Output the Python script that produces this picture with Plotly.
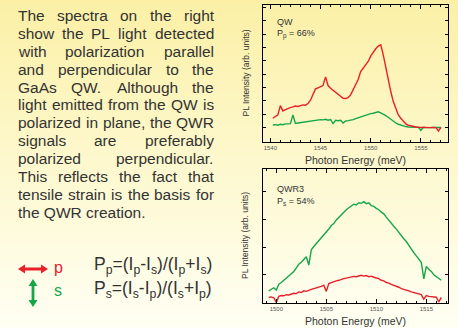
import plotly.graph_objects as go

# ---------------- data ----------------
qw_energy = [1540.25, 1540.5, 1540.75, 1541.0, 1541.25, 1541.5, 1541.75, 1542.0, 1542.25, 1542.5,
             1542.75, 1543.0, 1543.25, 1543.5, 1543.75, 1544.0, 1544.25, 1544.5, 1544.75, 1545.0,
             1545.25, 1545.5, 1545.75, 1546.0, 1546.25, 1546.5, 1546.75, 1547.0, 1547.25, 1547.5,
             1547.75, 1548.0, 1548.25, 1548.5, 1548.75, 1549.0, 1549.25, 1549.5, 1549.75, 1550.0,
             1550.25, 1550.5, 1550.75, 1551.0, 1551.25, 1551.5, 1551.75, 1552.0, 1552.25, 1552.5,
             1552.75, 1553.0, 1553.25, 1553.5, 1553.75, 1554.0, 1554.25, 1554.5, 1554.75, 1555.0,
             1555.25, 1555.5, 1555.75, 1556.0, 1556.25, 1556.5, 1556.75, 1557.0]
qw_p = [0.70, 0.85, 0.95, 1.65, 1.25, 1.35, 1.45, 1.50, 1.55, 1.62,
        1.58, 1.66, 1.70, 1.68, 1.80, 2.05, 2.55, 2.90, 2.98, 3.05,
        3.15, 3.80, 3.15, 2.95, 2.80, 2.60, 2.45, 2.32, 2.20, 2.18,
        2.25, 2.45, 2.80, 3.20, 3.60, 4.20, 4.45, 4.65, 4.95, 5.35,
        5.65, 5.90, 6.10, 6.20, 5.45, 4.50, 3.50, 2.70, 1.95, 1.40,
        0.95, 0.70, 0.45, 0.28, 0.18, 0.12, 0.08, 0.05, 0.03, 0.02,
        0.00, 0.02, -0.02, 0.00, 0.02, 0.00, -0.25, 0.02]
qw_s = [0.20, 0.22, 0.18, 0.25, 0.22, 0.28, 0.28, 0.30, 0.95, 0.32,
        0.35, 0.38, 0.36, 0.42, 0.45, 0.48, 0.52, 0.55, 0.58, 0.60,
        0.58, 0.62, 0.55, 0.60, 0.30, 0.55, 0.52, 0.55, 0.35, 0.50,
        0.52, 0.55, 0.60, 0.68, 0.75, 0.80, 0.85, 0.92, 0.98, 1.05,
        1.08, 1.15, 1.18, 1.10, 1.02, 0.90, 0.78, 0.62, 0.48, 0.35,
        0.25, 0.18, 0.12, 0.08, 0.05, 0.04, 0.03, 0.02, 0.03, -0.20,
        0.02, 0.00, 0.03, 0.01, 0.02, 0.00, 0.02, 0.01]

qwr_energy = [1499.25, 1499.5, 1499.75, 1500.0, 1500.25, 1500.5, 1500.75, 1501.0, 1501.25, 1501.5,
              1501.75, 1502.0, 1502.25, 1502.5, 1502.75, 1503.0, 1503.25, 1503.5, 1503.75, 1504.0,
              1504.25, 1504.5, 1504.75, 1505.0, 1505.25, 1505.5, 1505.75, 1506.0, 1506.25, 1506.5,
              1506.75, 1507.0, 1507.25, 1507.5, 1507.75, 1508.0, 1508.25, 1508.5, 1508.75, 1509.0,
              1509.25, 1509.5, 1509.75, 1510.0, 1510.25, 1510.5, 1510.75, 1511.0, 1511.25, 1511.5,
              1511.75, 1512.0, 1512.25, 1512.5, 1512.75, 1513.0, 1513.25, 1513.5, 1513.75, 1514.0,
              1514.25, 1514.5, 1514.75, 1515.0, 1515.25, 1515.5, 1515.75, 1516.0, 1516.25, 1516.5]
qwr_s = [0.42, 0.48, 0.53, 0.45, 0.66, 0.72, 0.80, 0.86, 0.95, 1.05,
         1.12, 1.25, 1.38, 1.45, 1.55, 1.65, 1.35, 1.90, 2.02, 2.12,
         2.25, 2.35, 2.45, 2.55, 2.65, 2.78, 2.85, 2.98, 3.08, 3.15,
         3.25, 3.35, 3.42, 3.48, 3.55, 3.52, 3.60, 3.58, 3.64, 3.57,
         3.60, 3.50, 3.47, 3.40, 3.35, 3.26, 3.20, 3.08, 2.96, 2.88,
         2.75, 2.65, 2.52, 2.42, 2.30, 2.20, 2.05, 1.95, 1.80, 1.68,
         1.55, 1.45, 0.85, 1.30, 1.20, 1.12, 1.00, 0.94, 0.86, 0.80]
qwr_p = [0.18, 0.20, 0.17, 0.00, 0.22, 0.25, 0.24, 0.28, 0.27, 0.30,
         0.33, 0.32, 0.38, 0.36, 0.42, 0.40, 0.45, 0.47, 0.50, 0.52,
         0.56, 0.58, 0.62, 0.40, 0.68, 0.72, 0.74, 0.78, 0.80, 0.84,
         0.86, 0.88, 0.90, 0.92, 0.94, 0.93, 0.96, 0.98, 0.95, 0.97,
         0.93, 0.95, 0.91, 0.88, 0.86, 0.80, 0.78, 0.72, 0.70, 0.65,
         0.62, 0.58, 0.55, 0.50, 0.48, 0.44, 0.42, 0.38, 0.35, 0.33,
         0.30, 0.28, 0.12, 0.25, 0.22, 0.21, 0.20, 0.19, 0.02, 0.18]

qw_ticks = [1540, 1545, 1550, 1555]
qwr_ticks = [1500, 1505, 1510, 1515]

paragraph_lines = [
    "The spectra on the right",
    "show the PL light detected",
    "with polarization parallel",
    "and perpendicular to the",
    "GaAs QW. Although the",
    "light emitted from the QW is",
    "polarized in plane, the QWR",
    "signals are preferably",
    "polarized perpendicular.",
    "This reflects the fact that",
    "tensile strain is the basis for",
    "the QWR creation.",
]

# ---------------- styling ----------------
W, H = 458, 328
RED = "#e8202a"
GREEN = "#15a64a"
TXT = "#333333"
FONT = "Liberation Sans, Arial, sans-serif"

# Arial / Liberation Sans advance widths (per 1000 em) for text layout
AW = {' ': 278, 'a': 556, 'b': 556, 'c': 500, 'd': 556, 'e': 556, 'f': 278, 'g': 556, 'h': 556,
      'i': 222, 'j': 222, 'k': 500, 'l': 222, 'm': 833, 'n': 556, 'o': 556, 'p': 556, 'q': 556,
      'r': 333, 's': 500, 't': 278, 'u': 556, 'v': 500, 'w': 722, 'x': 500, 'y': 500, 'z': 500,
      'A': 667, 'G': 778, 'L': 556, 'P': 667, 'Q': 778, 'R': 722, 'T': 611, 'W': 944,
      '.': 278, ',': 278}


def tw(s, size):
    return sum(AW.get(ch, 556) for ch in s) * size / 1000.0


def px(x):
    return x / W


def py(y):
    return 1 - y / H


fig = go.Figure()
fig.add_trace(go.Scatter(x=qw_energy, y=qw_s, mode="lines", line=dict(color=GREEN, width=1.4),
                         xaxis="x", yaxis="y", showlegend=False))
fig.add_trace(go.Scatter(x=qw_energy, y=qw_p, mode="lines", line=dict(color=RED, width=1.4),
                         xaxis="x", yaxis="y", showlegend=False))
fig.add_trace(go.Scatter(x=qwr_energy, y=qwr_p, mode="lines", line=dict(color=RED, width=1.4),
                         xaxis="x2", yaxis="y2", showlegend=False))
fig.add_trace(go.Scatter(x=qwr_energy, y=qwr_s, mode="lines", line=dict(color=GREEN, width=1.4),
                         xaxis="x2", yaxis="y2", showlegend=False))

# background gradient stripes
shapes = []
top_c = (251, 240, 166)
mid_c = (253, 248, 206)
bot_c = (255, 255, 243)
n = 82
for i in range(n):
    t = i / (n - 1)
    if t < 0.5:
        u = t / 0.5
        c = [round(top_c[k] + (mid_c[k] - top_c[k]) * u) for k in range(3)]
    else:
        u = (t - 0.5) / 0.5
        c = [round(mid_c[k] + (bot_c[k] - mid_c[k]) * u) for k in range(3)]
    y0 = i * H / n
    y1 = (i + 1) * H / n + 0.5
    shapes.append(dict(type="rect", xref="paper", yref="paper", x0=0, x1=1,
                       y0=py(y1), y1=py(y0), line=dict(width=0),
                       fillcolor="rgb(%d,%d,%d)" % tuple(c), layer="below"))


def path(points):
    return "M " + " L ".join("%.5f,%.5f" % (px(x), py(y)) for x, y in points) + " Z"


red_arrow = [(18, 269), (25, 264.5), (25, 267.6), (41, 267.6), (41, 264.5), (48, 269),
             (41, 273.5), (41, 270.4), (25, 270.4), (25, 273.5)]
green_arrow = [(33, 279), (37.5, 286), (34.4, 286), (34.4, 300), (37.5, 300), (33, 307),
               (28.5, 300), (31.6, 300), (31.6, 286), (28.5, 286)]
shapes.append(dict(type="path", xref="paper", yref="paper", path=path(red_arrow),
                   fillcolor=RED, line=dict(width=0)))
shapes.append(dict(type="path", xref="paper", yref="paper", path=path(green_arrow),
                   fillcolor=GREEN, line=dict(width=0)))

ann = []


def text(t, x, y, size, color=TXT, anchor="left", vanchor="middle"):
    ann.append(dict(text=t, x=px(x), y=py(y), xref="paper", yref="paper", showarrow=False,
                    xanchor=anchor, yanchor=vanchor, borderpad=0,
                    font=dict(family=FONT, size=size, color=color)))


# justified paragraph
L, R = 17, 213
PS = 15.5
for i, line in enumerate(paragraph_lines):
    yy = 15.5 + 17.9 * i
    words = line.split(" ")
    if i == len(paragraph_lines) - 1:
        text(line, L, yy, PS)
        continue
    widths = [tw(w, PS) for w in words]
    gap = (R - L - sum(widths)) / (len(words) - 1)
    x = L
    for w, wd in zip(words, widths):
        text(w, x, yy, PS)
        x += wd + gap

# legend-like arrows and formulas
text("p", 53, 267, 16, color=RED)
text("s", 53, 290, 16, color=GREEN)
text("P<sub>p</sub>=(I<sub>p</sub>-I<sub>s</sub>)/(I<sub>p</sub>+I<sub>s</sub>)", 93, 265, 17.5)
text("P<sub>s</sub>=(I<sub>s</sub>-I<sub>p</sub>)/(I<sub>s</sub>+I<sub>p</sub>)", 93, 289, 17.5)

# plot labels
text("QW", 276, 22, 9)
text("P<sub>p</sub> = 66%", 276, 34, 9)
text("QWR3", 276, 189, 9)
text("P<sub>s</sub> = 54%", 276, 201, 9)
text("Photon Energy (meV)", 355.5, 160, 10.5, anchor="center")
text("Photon Energy (meV)", 355.5, 321, 10.5, anchor="center")
for yc in (73.5, 236):
    ann.append(dict(text="PL Intensity (arb. units)", x=px(245), y=py(yc), xref="paper", yref="paper",
                    showarrow=False, textangle=-90, xanchor="center", yanchor="middle",
                    font=dict(family=FONT, size=8.5, color=TXT)))

xcommon = dict(showline=True, linecolor="black", linewidth=1, mirror="ticks", ticks="inside",
               ticklen=4, tickcolor="black", showgrid=False, zeroline=False,
               tickfont=dict(family=FONT, size=6, color="#555555"),
               minor=dict(dtick=1, ticks="inside", ticklen=2, tickcolor="black"))
ycommon = dict(showline=True, linecolor="black", linewidth=1, mirror="ticks", ticks="inside",
               ticklen=3, tickcolor="black", showgrid=False, zeroline=False, showticklabels=False,
               dtick=1)

fig.update_layout(
    width=W, height=H, margin=dict(l=0, r=0, t=0, b=0),
    paper_bgcolor="rgb(255,255,243)", plot_bgcolor="rgba(0,0,0,0)",
    xaxis=dict(domain=[px(263), px(448)], range=[1539.27, 1557.7], anchor="y",
               tickvals=qw_ticks, **xcommon),
    yaxis=dict(domain=[py(142), py(5)], range=[-1.075, 9.175], anchor="x", **ycommon),
    xaxis2=dict(domain=[px(263), px(448)], range=[1498.67, 1517.17], anchor="y2",
                tickvals=qwr_ticks, **xcommon),
    yaxis2=dict(domain=[py(303), py(169)], range=[-0.02, 4.82], anchor="x2", **ycommon),
    shapes=shapes, annotations=ann, showlegend=False,
)

fig.write_html("out.html", config={"displayModeBar": False},
               post_script="document.body.style.margin='0';document.body.style.overflow='hidden';")
